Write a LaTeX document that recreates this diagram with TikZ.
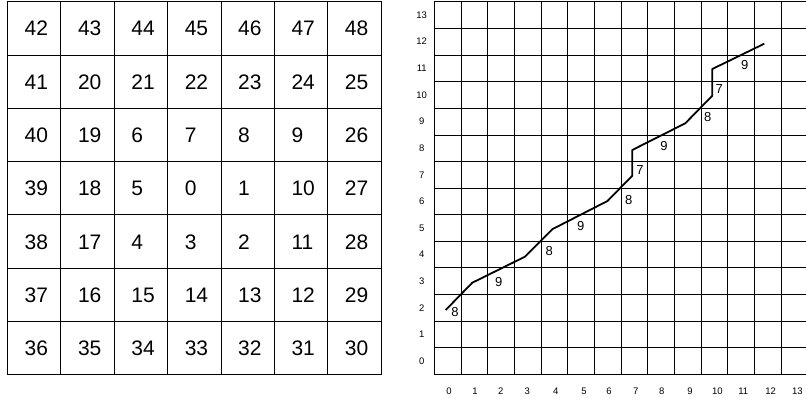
\documentclass[tikz,border=0pt]{standalone}
\usepackage{fontspec}
\setmainfont{Liberation Sans}
\begin{document}
\begin{tikzpicture}[x=1pt,y=-1pt,
  gridline/.style={line width=1.6pt,black},
  bignum/.style={anchor=base west,inner sep=0pt,font=\fontsize{21}{21}\selectfont},
  axislab/.style={anchor=base,inner sep=0pt,font=\fontsize{9.5}{9.5}\selectfont},
  seglab/.style={anchor=base,inner sep=0pt,font=\fontsize{13}{13}\selectfont},
  pathline/.style={line width=1.8pt,black,line join=round}]
\useasboundingbox (0,0) rectangle (806,398);
% ---------- left spiral grid ----------
\foreach \xx in {7.5,60.5,114.5,167.5,221.5,274.5,327.5,381.5}{
  \draw[gridline] (\xx,1.5) -- (\xx,374.5);
}
\foreach \yy in {1.5,55.5,108.5,161.5,214.5,268.5,321.5,374.5}{
  \draw[gridline] (7.5,\yy) -- (381.5,\yy);
}
\def\lx{7.5}\def\ly{1.7}\def\lc{53.36}\def\lr{53.26}
\foreach \row/\list in {0/{42,43,44,45,46,47,48},1/{41,20,21,22,23,24,25},2/{40,19,6,7,8,9,26},3/{39,18,5,0,1,10,27},4/{38,17,4,3,2,11,28},5/{37,16,15,14,13,12,29},6/{36,35,34,33,32,31,30}}{
  \foreach \v [count=\c from 0] in \list {
    \node[bignum] (n\v) at ({\lx+\c*\lc+17},{\ly+\row*\lr+34.3}) {\v};
  }
}
% ---------- right grid ----------
\begin{scope}
\clip (410,0) rectangle (806,398);
\foreach \yy in {1.5,28.5,55.5,81.5,108.5,135.5,161.5,188.5,214.5,241.5,267.5,294.5,321.5,347.5,374.5}{
  \draw[gridline] (434.5,\yy) -- (812,\yy);
}
\foreach \xx in {434.5,461.5,487.5,514.5,541.5,567.5,594.5,621.5,647.5,674.5,701.5,727.5,754.5,781.5}{
  \draw[gridline] (\xx,1.5) -- (\xx,374.5);
}
\end{scope}
% axis labels
\foreach \k in {0,...,13}{
  \node[axislab] (ylab\k) at (421.7,{374.3-13.31-\k*26.62+3.4}) {\k};
}
\foreach \k/\xx in {0/449,1/475,2/500.7,3/527.3,4/555.7,5/584,6/609,7/635.7,8/661.7,9/690,10/717.3,11/743.3,12/770.7,13/797.3}{
  \node[axislab] (xlab\k) at (\xx,394.1) {\k};
}
% path
\coordinate (p0) at (445.7,310);
\coordinate (p1) at (472.3,282.7);
\coordinate (p2) at (525,256.7);
\coordinate (p3) at (552.7,229);
\coordinate (p4) at (607.5,201);
\coordinate (p5) at (632.3,175.7);
\coordinate (p6) at (632.3,150);
\coordinate (p7) at (685.3,123.3);
\coordinate (p8) at (712.3,95.7);
\coordinate (p9) at (712.3,69);
\coordinate (p10) at (764.3,43.7);
\draw[pathline] (p0) -- (p1) -- (p2) -- (p3) -- (p4) -- (p5) -- (p6) -- (p7) -- (p8) -- (p9) -- (p10);
% segment labels
\node[seglab] (s1) at (455,316.3) {8};
\node[seglab] (s2) at (498.7,286.9) {9};
\node[seglab] (s3) at (549.3,255.6) {8};
\node[seglab] (s4) at (580.7,230.3) {9};
\node[seglab] (s5) at (628.7,204.6) {8};
\node[seglab] (s6) at (640,174.6) {7};
\node[seglab] (s7) at (664,150.6) {9};
\node[seglab] (s8) at (707.7,121.9) {8};
\node[seglab] (s9) at (719.3,93.6) {7};
\node[seglab] (s10) at (744.7,69.6) {9};
\end{tikzpicture}
\end{document}
